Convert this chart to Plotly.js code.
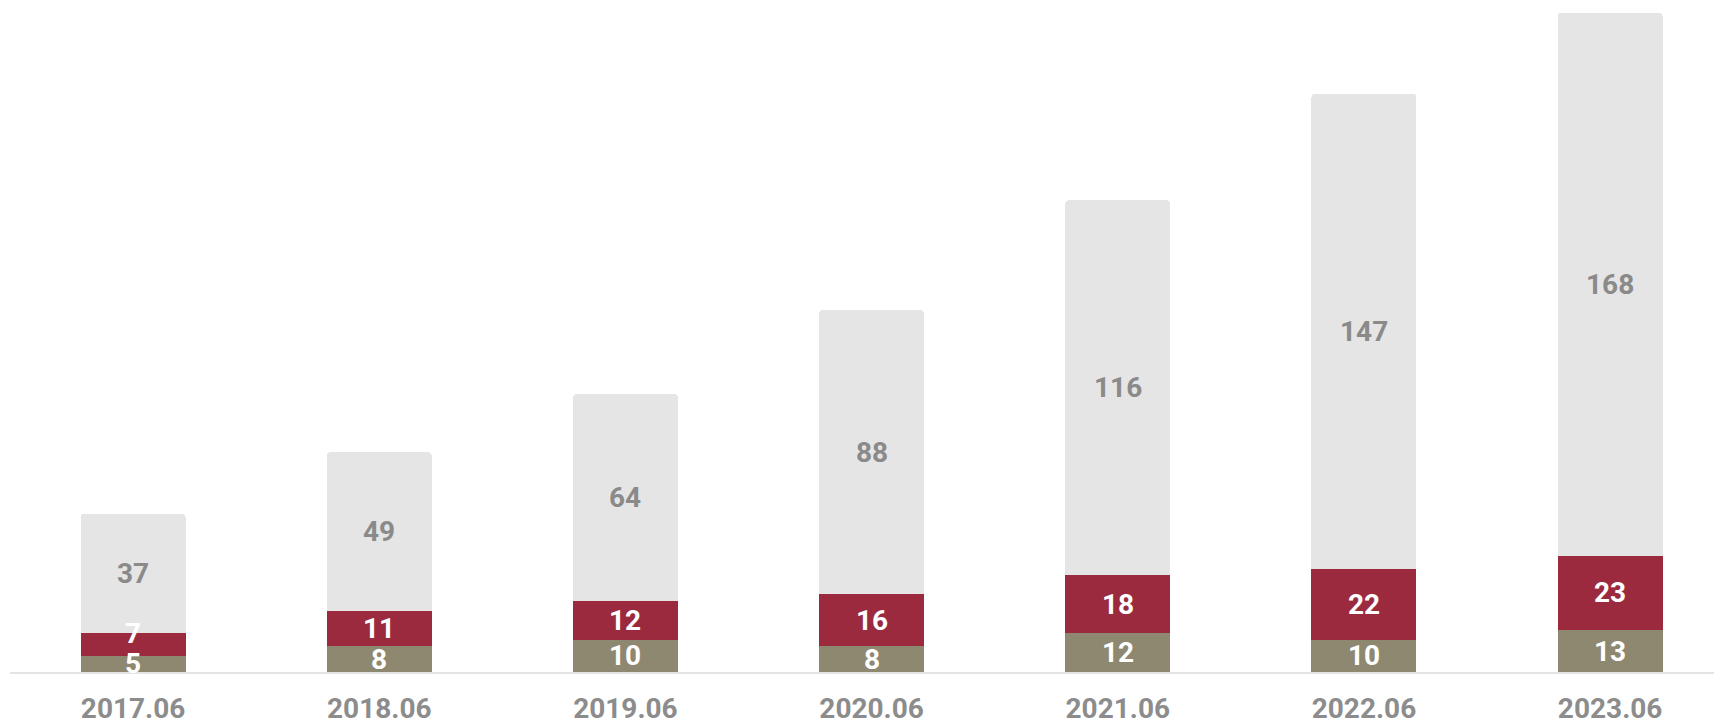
<!DOCTYPE html>
<html>
<head>
<meta charset="utf-8">
<script src="https://cdn.plot.ly/plotly-3.0.1.min.js"></script>
<style>
  html, body { margin: 0; padding: 0; background: #ffffff; }
  #chart { width: 1714px; height: 726px; }
</style>
</head>
<body>
<div id="chart"></div>
<script>
const categories = ['2017.06', '2018.06', '2019.06', '2020.06', '2021.06', '2022.06', '2023.06'];
const seriesBottom = [5, 8, 10, 8, 12, 10, 13];
const seriesMiddle = [7, 11, 12, 16, 18, 22, 23];
const seriesTop = [37, 49, 64, 88, 116, 147, 168];

const labelFont = 'Roboto, "DejaVu Sans", sans-serif';
const barWidth = 0.4264;

const seriesList = [
  { values: seriesBottom, color: '#8f8870', textColor: '#ffffff' },
  { values: seriesMiddle, color: '#9b2a3f', textColor: '#ffffff' },
  { values: seriesTop, color: '#e5e5e5', textColor: '#8a8a8a' }
];

const data = seriesList.map(s => ({
  type: 'bar',
  x: categories,
  y: s.values,
  width: barWidth,
  marker: { color: s.color, line: { width: 0 } },
  hoverinfo: 'skip',
  showlegend: false
}));

// value labels centred in each segment; a very thin middle segment gets its label nudged up
const annotations = [];
const base = categories.map(() => 0);
seriesList.forEach((s, si) => {
  s.values.forEach((v, i) => {
    const shift = (si === 1 && v < 9) ? 11 : 0;
    annotations.push({
      x: i,
      y: base[i] + v / 2,
      xref: 'x',
      yref: 'y',
      text: String(v),
      showarrow: false,
      yshift: shift,
      borderpad: 0,
      font: { family: labelFont, size: 28, color: s.textColor, weight: 'bold' }
    });
    base[i] += v;
  });
});

const layout = {
  width: 1714,
  height: 726,
  margin: { l: 10, r: 0, t: 0, b: 54, pad: 0 },
  paper_bgcolor: '#ffffff',
  plot_bgcolor: '#ffffff',
  barmode: 'stack',
  barcornerradius: 4,
  annotations: annotations,
  xaxis: {
    type: 'category',
    range: [-0.5, 6.422],
    showgrid: false,
    zeroline: false,
    showline: true,
    linecolor: '#e4e4e4',
    linewidth: 2,
    ticks: '',
    ticklabelstandoff: 10,
    tickfont: { family: labelFont, size: 28, color: '#8c8c8c', weight: 'bold' },
    fixedrange: true
  },
  yaxis: {
    range: [0, 208],
    visible: false,
    showgrid: false,
    zeroline: false,
    fixedrange: true
  }
};

Plotly.newPlot('chart', data, layout, { displayModeBar: false, staticPlot: true });
</script>
</body>
</html>
